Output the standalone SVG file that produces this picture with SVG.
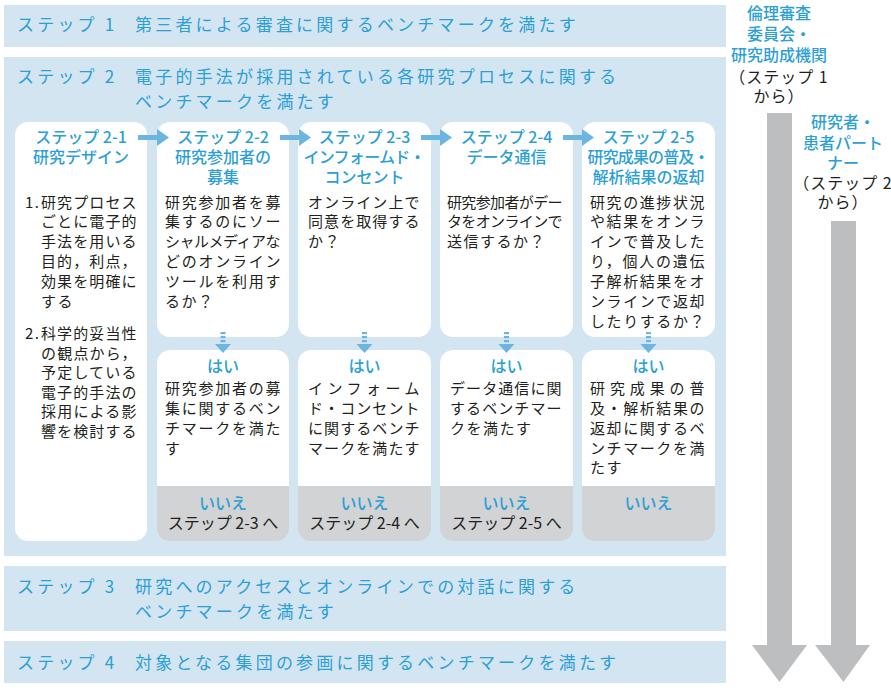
<svg xmlns="http://www.w3.org/2000/svg" width="891" height="688" viewBox="0 0 891 688">
<defs>
<style>
text{font-family:"Noto Sans CJK JP","Noto Sans",sans-serif;}
.band{fill:#d4e5f2;}
.bt{font-size:17px;fill:#2b9fd6;letter-spacing:3.2px;}
.hd{font-size:16px;fill:#2b9fd6;font-weight:500;text-anchor:middle;}
.yn{font-size:16px;fill:#2b9fd6;font-weight:500;text-anchor:middle;}
.bd{font-size:15px;fill:#231f20;letter-spacing:1.5px;}
.nx{font-size:16px;fill:#231f20;text-anchor:middle;}
.card{fill:#ffffff;}
.no{fill:#d1d3d4;}
.arr{fill:#6db5e1;}
.garr{fill:#bcbec0;}
.lb{font-size:16px;fill:#2b9fd6;font-weight:500;text-anchor:middle;}
.lk{font-size:16px;fill:#231f20;text-anchor:middle;letter-spacing:1px;}
</style>
</defs>
<rect width="891" height="688" fill="#ffffff"/>

<g id="step1">
<rect class="band" x="4" y="5" width="722" height="42"/>
<text class="bt" x="17" y="31">ステップ 1</text>
<text class="bt" x="135" y="31">第三者による審査に関するベンチマークを満たす</text>
</g>

<g id="step2">
<rect class="band" x="4" y="57" width="722" height="499"/>
<text class="bt" x="17" y="83">ステップ 2</text>
<text class="bt" x="135" y="83">電子的手法が採用されている各研究プロセスに関する</text>
<text class="bt" x="135" y="108">ベンチマークを満たす</text>
</g>

<g id="step3">
<rect class="band" x="4" y="566" width="722" height="65"/>
<text class="bt" x="17" y="593">ステップ 3</text>
<text class="bt" x="135" y="593">研究へのアクセスとオンラインでの対話に関する</text>
<text class="bt" x="135" y="618">ベンチマークを満たす</text>
</g>

<g id="step4">
<rect class="band" x="4" y="641" width="722" height="42"/>
<text class="bt" x="17" y="669">ステップ 4</text>
<text class="bt" x="135" y="669">対象となる集団の参画に関するベンチマークを満たす</text>
</g>

<g id="step2-1">
<rect class="card" x="15" y="122" width="132" height="419" rx="13"/>
<text class="hd" x="81" y="143">ステップ 2-1</text>
<text class="hd" x="81" y="163">研究デザイン</text>
<text class="bd" x="25" y="208">1.</text>
<text class="bd" x="41" y="208" textLength="97">研究プロセス</text>
<text class="bd" x="41" y="227" textLength="97">ごとに電子的</text>
<text class="bd" x="41" y="247" textLength="97">手法を用いる</text>
<text class="bd" x="41" y="267" textLength="97">目的，利点，</text>
<text class="bd" x="41" y="287" textLength="97">効果を明確に</text>
<text class="bd" x="41" y="307">する</text>
<text class="bd" x="25" y="339">2.</text>
<text class="bd" x="41" y="339" textLength="97">科学的妥当性</text>
<text class="bd" x="41" y="359" textLength="97">の観点から，</text>
<text class="bd" x="41" y="378" textLength="97">予定している</text>
<text class="bd" x="41" y="398" textLength="97">電子的手法の</text>
<text class="bd" x="41" y="417" textLength="97">採用による影</text>
<text class="bd" x="41" y="437" textLength="97">響を検討する</text>
</g>

<g id="step2-2">
<rect class="card" x="157" y="122" width="132" height="215" rx="13"/>
<text class="hd" x="223" y="143">ステップ 2-2</text>
<text class="hd" x="223" y="163">研究参加者の</text>
<text class="hd" x="223" y="183">募集</text>
<text class="bd" x="165" y="208" textLength="117">研究参加者を募</text>
<text class="bd" x="165" y="227" textLength="117">集するのにソー</text>
<text class="bd" x="165" y="247" textLength="117">シャルメディアな</text>
<text class="bd" x="165" y="267" textLength="117">どのオンライン</text>
<text class="bd" x="165" y="287" textLength="117">ツールを利用す</text>
<text class="bd" x="165" y="307">るか？</text>
</g>
<g id="step2-2-result">
<rect class="no" x="157" y="350" width="132" height="191" rx="13"/>
<path class="card" d="M157,486 V363 A13,13 0 0 1 170,350 H276 A13,13 0 0 1 289,363 V486 Z"/>
<text class="yn" x="223" y="372">はい</text>
<text class="bd" x="165" y="394" textLength="117">研究参加者の募</text>
<text class="bd" x="165" y="414" textLength="117">集に関するベン</text>
<text class="bd" x="165" y="434" textLength="117">チマークを満た</text>
<text class="bd" x="165" y="454">す</text>
<text class="yn" x="223" y="509">いいえ</text>
<text class="nx" x="223" y="529">ステップ 2-3 へ</text>
</g>

<g id="step2-3">
<rect class="card" x="298" y="122" width="133" height="215" rx="13"/>
<text class="hd" x="364.5" y="143">ステップ 2-3</text>
<text class="hd" x="364.5" y="163" textLength="122">インフォームド・</text>
<text class="hd" x="364.5" y="183">コンセント</text>
<text class="bd" x="308" y="208" textLength="113">オンライン上で</text>
<text class="bd" x="308" y="227" textLength="113">同意を取得する</text>
<text class="bd" x="308" y="247">か？</text>
</g>
<g id="step2-3-result">
<rect class="no" x="298" y="350" width="133" height="191" rx="13"/>
<path class="card" d="M298,486 V363 A13,13 0 0 1 311,350 H418 A13,13 0 0 1 431,363 V486 Z"/>
<text class="yn" x="364.5" y="372">はい</text>
<text class="bd" x="308" y="394" textLength="113">インフォーム</text>
<text class="bd" x="308" y="414" textLength="113">ド・コンセント</text>
<text class="bd" x="308" y="434" textLength="113">に関するベンチ</text>
<text class="bd" x="308" y="454" textLength="113">マークを満たす</text>
<text class="yn" x="364.5" y="509">いいえ</text>
<text class="nx" x="364.5" y="529">ステップ 2-4 へ</text>
</g>

<g id="step2-4">
<rect class="card" x="440" y="122" width="133" height="215" rx="13"/>
<text class="hd" x="506.5" y="143">ステップ 2-4</text>
<text class="hd" x="506.5" y="163">データ通信</text>
<text class="bd" x="447" y="208" textLength="117">研究参加者がデー</text>
<text class="bd" x="447" y="227" textLength="117">タをオンラインで</text>
<text class="bd" x="447" y="247">送信するか？</text>
</g>
<g id="step2-4-result">
<rect class="no" x="440" y="350" width="133" height="191" rx="13"/>
<path class="card" d="M440,486 V363 A13,13 0 0 1 453,350 H560 A13,13 0 0 1 573,363 V486 Z"/>
<text class="yn" x="506.5" y="372">はい</text>
<text class="bd" x="450" y="394" textLength="113">データ通信に関</text>
<text class="bd" x="450" y="414" textLength="113">するベンチマー</text>
<text class="bd" x="450" y="434">クを満たす</text>
<text class="yn" x="506.5" y="509">いいえ</text>
<text class="nx" x="506.5" y="529">ステップ 2-5 へ</text>
</g>

<g id="step2-5">
<rect class="card" x="582" y="122" width="133" height="215" rx="13"/>
<text class="hd" x="648.5" y="143">ステップ 2-5</text>
<text class="hd" x="648.5" y="163" textLength="122">研究成果の普及・</text>
<text class="hd" x="648.5" y="183">解析結果の返却</text>
<text class="bd" x="590" y="208" textLength="116">研究の進捗状況</text>
<text class="bd" x="590" y="227" textLength="116">や結果をオンラ</text>
<text class="bd" x="590" y="247" textLength="116">インで普及した</text>
<text class="bd" x="590" y="267" textLength="116">り，個人の遺伝</text>
<text class="bd" x="590" y="287" textLength="116">子解析結果をオ</text>
<text class="bd" x="590" y="307" textLength="116">ンラインで返却</text>
<text class="bd" x="590" y="327" textLength="116">したりするか？</text>
</g>
<g id="step2-5-result">
<rect class="no" x="582" y="350" width="133" height="191" rx="13"/>
<path class="card" d="M582,486 V363 A13,13 0 0 1 595,350 H702 A13,13 0 0 1 715,363 V486 Z"/>
<text class="yn" x="648.5" y="372">はい</text>
<text class="bd" x="590" y="394" textLength="116">研究成果の普</text>
<text class="bd" x="590" y="414" textLength="116">及・解析結果の</text>
<text class="bd" x="590" y="434" textLength="116">返却に関するベ</text>
<text class="bd" x="590" y="454" textLength="116">ンチマークを満</text>
<text class="bd" x="590" y="473" letter-spacing="5">たす</text>
<text class="yn" x="648.5" y="509">いいえ</text>
</g>

<g id="label-ethics">
<text class="lb" x="779" y="19">倫理審査</text>
<text class="lb" x="779" y="40">委員会・</text>
<text class="lb" x="779" y="61">研究助成機関</text>
<text class="lk" x="779" y="83">（ステップ 1</text>
<text class="lk" x="779" y="102">から）</text>
</g>

<g id="label-partners">
<text class="lb" x="843" y="128">研究者・</text>
<text class="lb" x="843" y="149">患者パート</text>
<text class="lb" x="843" y="169">ナー</text>
<text class="lk" x="843" y="189">（ステップ 2</text>
<text class="lk" x="843" y="208">から）</text>
</g>

<g id="connectors">
<g class="arr">
<rect x="138" y="135" width="20" height="5"/><polygon points="157,129 157,146 169,137.5"/>
<rect x="280" y="135" width="20" height="5"/><polygon points="299,129 299,146 311,137.5"/>
<rect x="421" y="135" width="20" height="5"/><polygon points="440,129 440,146 452,137.5"/>
<rect x="563" y="135" width="20" height="5"/><polygon points="582,129 582,146 594,137.5"/>
</g>
<g class="arr">
<rect x="220.5" y="332" width="5" height="2.2"/><rect x="220.5" y="336" width="5" height="2.2"/><rect x="220.5" y="340" width="5" height="2.2"/><polygon points="215,344 231,344 223,353"/>
<rect x="362" y="332" width="5" height="2.2"/><rect x="362" y="336" width="5" height="2.2"/><rect x="362" y="340" width="5" height="2.2"/><polygon points="356.5,344 372.5,344 364.5,353"/>
<rect x="504" y="332" width="5" height="2.2"/><rect x="504" y="336" width="5" height="2.2"/><rect x="504" y="340" width="5" height="2.2"/><polygon points="498.5,344 514.5,344 506.5,353"/>
<rect x="646" y="332" width="5" height="2.2"/><rect x="646" y="336" width="5" height="2.2"/><rect x="646" y="340" width="5" height="2.2"/><polygon points="640.5,344 656.5,344 648.5,353"/>
</g>
<g class="garr">
<polygon points="767,113 792,113 792,645 807,645 779.5,682 752,645 767,645"/>
<polygon points="831,221 856,221 856,645 870,645 843.5,682 815,645 831,645"/>
</g>
</g>
</svg>
